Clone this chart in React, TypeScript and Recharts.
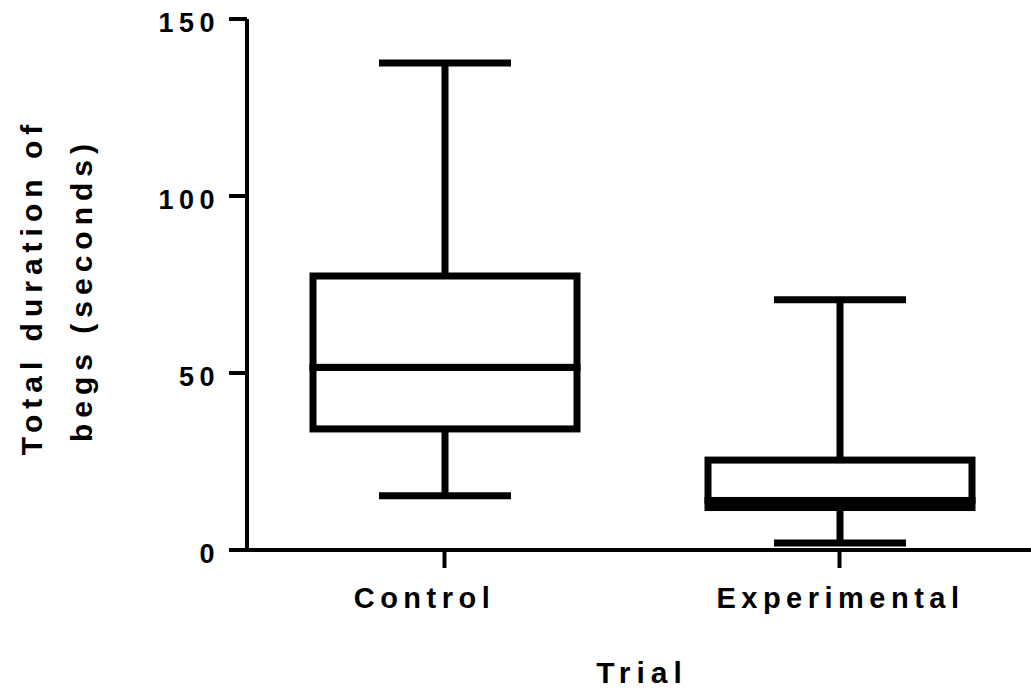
import { ComposedChart, Bar, XAxis, YAxis } from 'recharts'

// box plot (seconds)
const trials = ['Control', 'Experimental']
const mins = [15.3, 2.0]
const q1s = [34.2, 12.0]
const medians = [51.6, 14.0]
const q3s = [77.4, 25.4]
const maxes = [137.6, 70.7]
const yTicks = [0, 50, 100, 150]

const FONT = '"Liberation Sans", Arial, Helvetica, sans-serif'
const LINE = 7
// the original figure nudges the first category label to the left
const labelShift: Record<string, number> = { Control: -20, Experimental: 1 }

const data = trials.map((name, i) => ({
  name,
  base: mins[i],
  lowWhisker: q1s[i] - mins[i],
  lowBox: medians[i] - q1s[i],
  highBox: q3s[i] - medians[i],
  highWhisker: maxes[i] - q3s[i],
}))

function Empty() {
  return <g />
}

function LowWhisker({ x, y, width, height }: any) {
  const cx = x + width / 2
  const cap = width / 4
  return (
    <g>
      <line x1={cx} x2={cx} y1={y} y2={y + height} stroke="#000" strokeWidth={LINE} />
      <line x1={cx - cap} x2={cx + cap} y1={y + height} y2={y + height} stroke="#000" strokeWidth={LINE} />
    </g>
  )
}

function HighWhisker({ x, y, width, height }: any) {
  const cx = x + width / 2
  const cap = width / 4
  return (
    <g>
      <line x1={cx} x2={cx} y1={y} y2={y + height} stroke="#000" strokeWidth={LINE} />
      <line x1={cx - cap} x2={cx + cap} y1={y} y2={y} stroke="#000" strokeWidth={LINE} />
    </g>
  )
}

function BoxPart({ x, y, width, height }: any) {
  return <rect x={x} y={y} width={width} height={height} fill="#fff" stroke="#000" strokeWidth={LINE} />
}

function YTick({ x, y, payload }: any) {
  return (
    <text x={x - 7} y={y} dy={13} textAnchor="end" fontFamily={FONT} fontWeight={700} fontSize={27} letterSpacing={5.5} fill="#000">
      {payload.value}
    </text>
  )
}

function XTick({ x, y, payload }: any) {
  const shift = labelShift[payload.value] ?? 0
  return (
    <text x={x + shift} y={y + 38} textAnchor="middle" fontFamily={FONT} fontWeight={700} fontSize={29} letterSpacing={5.5} fill="#000">
      {payload.value}
    </text>
  )
}

export default function App() {
  return (
    <div style={{ position: 'absolute', left: 0, top: 0, width: 1031, height: 691, overflow: 'hidden', background: '#fff' }}>
      <ComposedChart width={1037} height={691} data={data} margin={{ top: 19, right: 0, bottom: 0, left: 0 }} barSize={264}>
        <XAxis
          dataKey="name"
          height={141}
          axisLine={{ stroke: '#000', strokeWidth: 4 }}
          tickLine={{ stroke: '#000', strokeWidth: 4 }}
          tickSize={18}
          tick={<XTick />}
          interval={0}
        />
        <YAxis
          type="number"
          domain={[0, 150]}
          ticks={yTicks}
          width={247}
          axisLine={{ stroke: '#000', strokeWidth: 4 }}
          tickLine={{ stroke: '#000', strokeWidth: 4 }}
          tickSize={18}
          tick={<YTick />}
        />
        <Bar dataKey="base" stackId="box" shape={<Empty />} isAnimationActive={false} />
        <Bar dataKey="lowWhisker" stackId="box" shape={<LowWhisker />} isAnimationActive={false} />
        <Bar dataKey="lowBox" stackId="box" shape={<BoxPart />} isAnimationActive={false} />
        <Bar dataKey="highBox" stackId="box" shape={<BoxPart />} isAnimationActive={false} />
        <Bar dataKey="highWhisker" stackId="box" shape={<HighWhisker />} isAnimationActive={false} />
        <text x={42} y={287} transform="rotate(-90 42 287)" textAnchor="middle" fontFamily={FONT} fontWeight={700} fontSize={30} letterSpacing={6} fill="#000">
          Total duration of
        </text>
        <text x={92} y={290} transform="rotate(-90 92 290)" textAnchor="middle" fontFamily={FONT} fontWeight={700} fontSize={30} letterSpacing={6} fill="#000">
          begs (seconds)
        </text>
        <text x={642} y={683} textAnchor="middle" fontFamily={FONT} fontWeight={700} fontSize={30} letterSpacing={6} fill="#000">
          Trial
        </text>
      </ComposedChart>
    </div>
  )
}
